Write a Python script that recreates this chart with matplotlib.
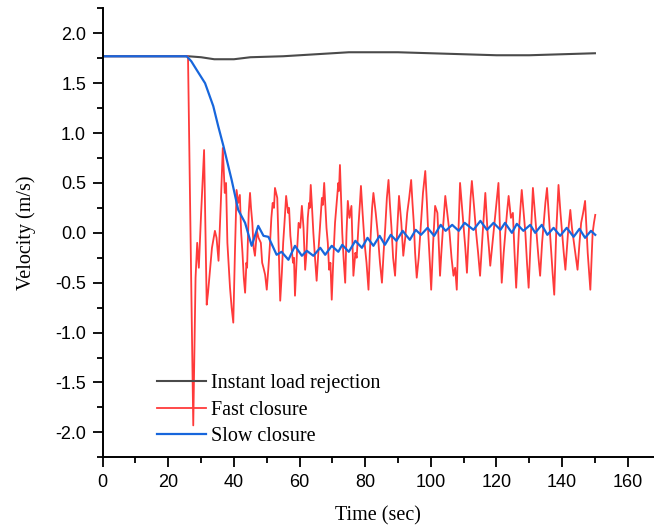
import matplotlib
matplotlib.use("Agg")
import matplotlib.pyplot as plt
from matplotlib.ticker import MultipleLocator

# instant load rejection (time s, velocity m/s)
inst_t = [0, 26, 30, 34, 40, 45, 55, 65, 75, 90, 100, 110, 120, 130, 140, 150]
inst_v = [1.77, 1.77, 1.76, 1.74, 1.74, 1.76, 1.77, 1.79, 1.81, 1.81, 1.80, 1.79, 1.78, 1.78, 1.79, 1.80]

# fast closure
fast_t = [0, 26.0, 27.6, 28.3, 28.8, 29.3, 30.0, 30.5, 30.9, 31.3, 31.7, 32.1, 32.5, 33.3, 34.2, 34.7,
          35.3, 36.0, 36.6, 37.2, 37.6, 38.0, 38.8, 39.3, 39.8, 40.3, 40.8, 41.3, 41.8, 42.2, 42.6,
          43.0, 43.4, 43.8, 44.0, 44.5, 44.9, 45.2, 45.6, 46.0, 46.4, 47.0, 47.5, 48.2, 48.6, 49.0,
          49.5, 50.0, 50.5, 51.0, 51.4, 51.8, 52.2, 52.5, 53.2, 53.6, 54.1, 54.6, 55.0, 55.4, 55.9,
          56.5, 56.8, 57.2, 58.0, 58.3, 58.6, 59.2, 59.7, 60.2, 60.7, 61.2, 61.7, 62.1, 62.5, 62.9,
          63.1, 63.4, 63.8, 64.2, 64.7, 65.2, 65.8, 66.3, 66.8, 67.1, 67.5, 68.2, 68.6, 69.0, 69.4,
          69.8, 70.3, 70.8, 71.3, 71.8, 72.0, 72.3, 73.0, 73.4, 73.9, 74.3, 74.7, 75.2, 75.8, 76.1,
          76.4, 77.0, 77.4, 78.0, 78.4, 78.7, 79.2, 79.8, 80.4, 81.0, 81.4, 81.7, 82.1, 82.5, 83.2,
          83.8, 84.5, 85.1, 85.6, 86.1, 86.6, 87.1, 87.5, 88.0, 88.5, 89.1, 89.7, 90.3, 91.0, 91.6,
          92.2, 92.8, 93.4, 94.0, 94.4, 94.8, 95.2, 95.7, 96.3, 97.0, 97.6, 98.3, 98.8, 99.2, 99.7,
          100.1, 100.7, 101.3, 102.0, 102.4, 102.8, 103.2, 103.6, 104.4, 105.0, 105.7, 106.3, 106.9,
          107.4, 107.9, 108.4, 108.9, 109.4, 110.0, 110.5, 111.0, 111.7, 112.1, 112.5, 113.2, 113.8,
          114.4, 115.0, 115.8, 116.6, 117.3, 117.7, 118.1, 118.8, 119.4, 120.0, 120.6, 121.1, 121.6,
          122.2, 122.7, 123.2, 123.7, 124.4, 125.0, 125.5, 126.0, 126.8, 127.3, 127.7, 128.3, 128.8,
          129.3, 129.8, 130.5, 131.1, 131.7, 132.2, 132.8, 133.3, 133.9, 134.4, 134.9, 135.4, 136.0,
          136.5, 137.1, 137.6, 138.2, 138.9, 139.5, 140.0, 140.5, 141.0, 141.8, 142.5, 143.0, 143.6,
          144.2, 144.7, 145.3, 145.8, 146.4, 147.0, 147.8, 148.6, 149.3, 149.7, 150.1]
fast_v = [1.77, 1.77, -1.93, -0.45, -0.10, -0.35, 0.20, 0.55, 0.83, 0.05, -0.72, -0.60, -0.45, -0.15, 0.02, -0.05,
          -0.28, 0.30, 0.85, 0.40, 0.50, -0.10, -0.55, -0.75, -0.90, -0.20, 0.43, 0.30, 0.38, 0.00, -0.20,
          -0.45, -0.60, -0.30, -0.35, 0.20, 0.40, 0.25, 0.10, -0.15, -0.23, 0.02, -0.05, -0.10, -0.30, -0.35,
          -0.42, -0.57, -0.35, -0.10, 0.15, 0.30, 0.25, 0.45, 0.35, -0.10, -0.68, -0.40, -0.10, 0.10, 0.37,
          0.20, 0.25, -0.03, -0.30, -0.25, -0.63, -0.20, 0.10, 0.05, 0.27, 0.05, -0.37, -0.20, 0.15, 0.30,
          0.25, 0.48, 0.25, 0.00, -0.25, -0.48, -0.15, 0.10, 0.35, 0.28, 0.50, 0.05, -0.10, -0.37, -0.30,
          -0.67, -0.25, 0.10, 0.30, 0.50, 0.42, 0.68, 0.00, -0.25, -0.50, 0.00, 0.32, 0.15, 0.27, -0.10,
          -0.43, -0.20, -0.25, 0.10, 0.30, 0.47, 0.20, -0.10, -0.30, -0.57, -0.20, 0.00, 0.25, 0.40, 0.20,
          0.00, -0.30, -0.50, -0.20, 0.05, 0.35, 0.53, 0.30, 0.05, -0.25, -0.43, 0.00, 0.37, 0.10, -0.23,
          -0.05, 0.20, 0.35, 0.53, 0.30, 0.10, -0.20, -0.45, -0.25, 0.10, 0.40, 0.62, 0.30, 0.00, -0.30,
          -0.57, -0.10, 0.27, 0.20, -0.10, -0.43, -0.20, 0.00, 0.37, 0.20, 0.00, -0.25, -0.43,
          -0.35, -0.57, 0.00, 0.50, 0.30, 0.05, -0.15, -0.40, 0.10, 0.35, 0.52, 0.25, 0.00,
          -0.20, -0.43, 0.00, 0.40, 0.00, -0.15, -0.33, -0.10, 0.10, 0.30, 0.50, 0.00, -0.50,
          -0.20, 0.00, 0.20, 0.37, 0.15, 0.20, -0.20, -0.55, 0.00, 0.25, 0.43, 0.20, 0.00,
          -0.30, -0.55, 0.00, 0.45, 0.20, 0.00, -0.25, -0.43, -0.10, 0.10, 0.30, 0.45, 0.15,
          -0.10, -0.40, -0.62, 0.00, 0.48, 0.20, 0.00, -0.20, -0.37, 0.00, 0.23, 0.05, -0.10,
          -0.25, -0.37, -0.10, 0.10, 0.20, 0.32, -0.20, -0.57, 0.00, 0.10, 0.18]

# slow closure
slow_t = [0, 25.6, 27.0, 28.7, 31.2, 33.7, 35.2, 36.8, 39.3, 41.3, 43.4, 45.4, 47.4, 49.0, 50.5, 53.0,
          54.5, 56.6, 58.6, 60.7, 62.2, 64.2, 66.3, 67.8, 69.8, 71.8, 73.0, 75.0, 77.0, 79.0, 80.7,
          82.5, 84.4, 86.0, 87.8, 89.5, 91.4, 93.6, 95.4, 97.0, 99.0, 101.0, 103.0, 104.5, 106.5, 108.5,
          110.3, 113.0, 115.1, 117.1, 119.1, 121.2, 122.6, 124.7, 126.2, 128.2, 130.3, 131.8, 133.8,
          135.5, 137.4, 139.4, 141.4, 143.5, 145.3, 147.0, 148.8, 150.1]
slow_v = [1.77, 1.77, 1.72, 1.63, 1.50, 1.27, 1.07, 0.87, 0.53, 0.23, 0.10, -0.13, 0.07, -0.03, -0.04, -0.22,
          -0.19, -0.27, -0.13, -0.23, -0.18, -0.23, -0.15, -0.22, -0.13, -0.19, -0.12, -0.19, -0.08, -0.15, -0.05,
          -0.13, -0.03, -0.12, -0.02, -0.08, 0.02, -0.07, 0.03, -0.02, 0.05, -0.03, 0.08, 0.02, 0.08, 0.02,
          0.10, 0.03, 0.12, 0.03, 0.10, 0.03, 0.10, 0.00, 0.09, 0.02, 0.08, 0.00, 0.08,
          -0.02, 0.05, -0.03, 0.05, -0.04, 0.04, -0.05, 0.02, -0.02]

fig = plt.figure(figsize=(6.54, 5.29), dpi=100)
ax = fig.add_axes([0.157, 0.1355, 0.843, 0.8487])

ax.plot(inst_t, inst_v, color='#4a4a4a', lw=1.5, label='Instant load rejection')
ax.plot(fast_t, fast_v, color='#ff3a3a', lw=1.3, label='Fast closure')
ax.plot(slow_t, slow_v, color='#1766dc', lw=1.6, label='Slow closure')

ax.set_xlim(0, 168)
ax.set_ylim(-2.25, 2.25)
ax.xaxis.set_major_locator(MultipleLocator(20))
ax.xaxis.set_minor_locator(MultipleLocator(10))
ax.yaxis.set_major_locator(MultipleLocator(0.5))
ax.yaxis.set_minor_locator(MultipleLocator(0.25))
ax.yaxis.set_major_formatter(plt.FuncFormatter(lambda v, p: f"{v:.1f}"))

ax.spines['top'].set_visible(False)
ax.spines['right'].set_visible(False)
ax.spines['left'].set_linewidth(1.4)
ax.spines['bottom'].set_linewidth(1.4)
ax.tick_params(which='major', direction='out', length=7, width=1.3, labelsize=13, pad=5)
ax.tick_params(which='minor', direction='out', length=4, width=1.3)
for lab in ax.get_xticklabels() + ax.get_yticklabels():
    lab.set_fontfamily('Liberation Sans')

ax.set_xlabel('Time (sec)', fontfamily='Liberation Serif', fontsize=14.5, labelpad=11)
ax.set_ylabel('Velocity (m/s)', fontfamily='Liberation Serif', fontsize=14.5, labelpad=14)

ax.legend(loc='lower left', bbox_to_anchor=(0.0796, 0.002), frameon=False,
          prop={'family': 'Liberation Serif', 'size': 14.5},
          handlelength=2.45, handletextpad=0.25, labelspacing=0.38, borderpad=0)

fig.savefig('out.png', dpi=100)
